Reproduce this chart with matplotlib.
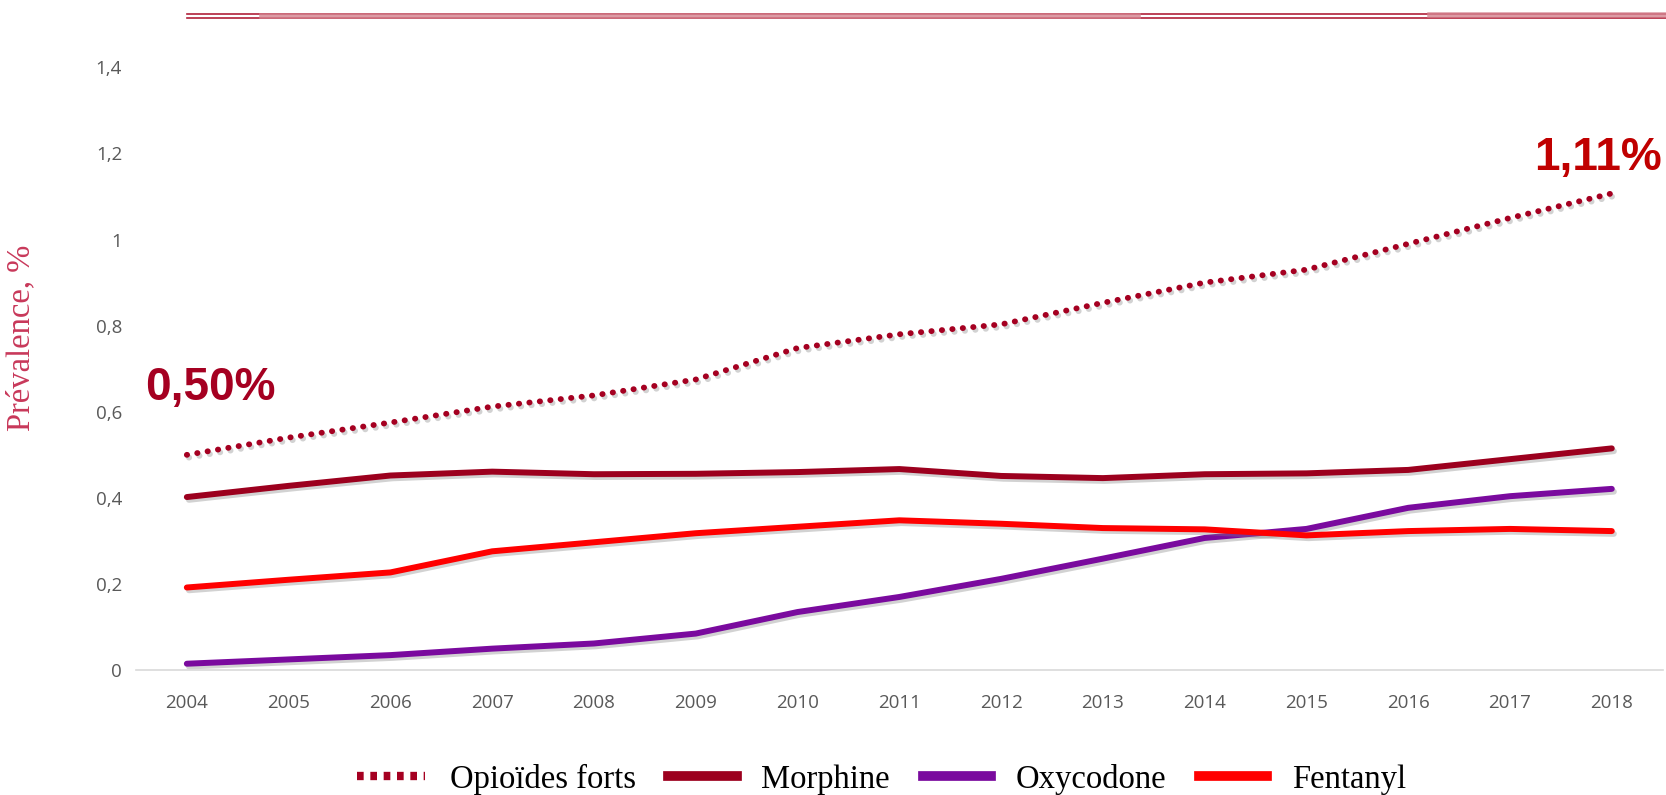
import matplotlib.pyplot as plt
import matplotlib.patheffects as pe
from matplotlib.lines import Line2D
from matplotlib.ticker import FuncFormatter

years = list(range(2004, 2019))

# prevalence (%)
opioides_forts = [0.50, 0.54, 0.575, 0.612, 0.638, 0.675, 0.748, 0.78, 0.803, 0.853,
                  0.90, 0.93, 0.99, 1.05, 1.107]
morphine = [0.402, 0.428, 0.452, 0.461, 0.455, 0.456, 0.46, 0.467, 0.451, 0.446,
            0.455, 0.457, 0.465, 0.49, 0.515]
oxycodone = [0.015, 0.025, 0.035, 0.05, 0.062, 0.085, 0.135, 0.17, 0.212, 0.259,
             0.307, 0.328, 0.377, 0.404, 0.421]
fentanyl = [0.192, 0.21, 0.227, 0.276, 0.297, 0.318, 0.333, 0.348, 0.34, 0.33,
            0.327, 0.313, 0.323, 0.328, 0.323]

series_names = ["Opioïdes forts", "Morphine", "Oxycodone", "Fentanyl"]
series_colors = ["#a50021", "#9c001e", "#7a0a9e", "#ff0000"]

shadow = [pe.SimpleLineShadow(offset=(1.5, -2), shadow_color="gray", alpha=0.35),
          pe.Normal()]

fig = plt.figure(figsize=(16.66, 7.95), dpi=100)
ax = fig.add_axes([0.0816, 0.157, 0.9164, 0.8126])

ax.plot(years, opioides_forts, color=series_colors[0], lw=4.2,
        linestyle=(0, (0.05, 1.75)), dash_capstyle="round",
        path_effects=shadow, label=series_names[0])
for vals, name, col in zip([morphine, oxycodone, fentanyl], series_names[1:], series_colors[1:]):
    ax.plot(years, vals, color=col, lw=4.3, solid_capstyle="round",
            solid_joinstyle="round", path_effects=shadow, label=name)

ax.set_xlim(2003.5, 2018.5)
ax.set_ylim(0, 1.5)
ax.set_xticks(years)
ax.set_yticks([0, 0.2, 0.4, 0.6, 0.8, 1.0, 1.2, 1.4])
ax.yaxis.set_major_formatter(FuncFormatter(lambda v, p: f"{v:g}".replace(".", ",")))
ax.tick_params(length=0, labelcolor="#595959", labelsize=13.5)
ax.tick_params(axis="x", pad=17)
ax.tick_params(axis="y", pad=10)
for lab in ax.get_xticklabels() + ax.get_yticklabels():
    lab.set_fontfamily("Open Sans")
for s in ["top", "right", "left"]:
    ax.spines[s].set_visible(False)
ax.spines["bottom"].set_color("#d9d9d9")
ax.spines["bottom"].set_linewidth(1.2)

ax.set_ylabel("Prévalence, %", family="Liberation Serif", fontsize=23.5,
              color="#c8385a")
ax.yaxis.set_label_coords(-0.0655, 0.514)

ax.text(2004.23, 0.655, "0,50%", family="Liberation Sans", fontweight="bold",
        fontsize=33, color="#a50021", ha="center", va="center")
ax.text(2017.86, 1.19, "1,11%", family="Liberation Sans", fontweight="bold",
        fontsize=33, color="#c00000", ha="center", va="center")

handles = [Line2D([], [], color=series_colors[0], lw=6, linestyle=(0, (0.8, 0.8))),
           Line2D([], [], color=series_colors[1], lw=7),
           Line2D([], [], color=series_colors[2], lw=7),
           Line2D([], [], color=series_colors[3], lw=7)]
fig.legend(handles, series_names, loc="center", bbox_to_anchor=(0.529, 0.02),
           ncol=4, frameon=False, prop={"family": "Liberation Serif", "size": 23.5},
           handlelength=2.1, handletextpad=0.75, columnspacing=1.0)

# double rule at the top of the slide
fig.add_artist(Line2D([187 / 1666, 1], [1 - 14 / 795] * 2, color="#b0203a", lw=1.2))
fig.add_artist(Line2D([187 / 1666, 1], [1 - 18 / 795] * 2, color="#b0203a", lw=1.2))
fig.add_artist(Line2D([262 / 1666, 1138 / 1666], [1 - 16 / 795] * 2, color="#d4838f", lw=4, alpha=0.8))
fig.add_artist(Line2D([1430 / 1666, 1], [1 - 15 / 795] * 2, color="#d4838f", lw=4, alpha=0.8))

fig.savefig("out.png", dpi=100)
